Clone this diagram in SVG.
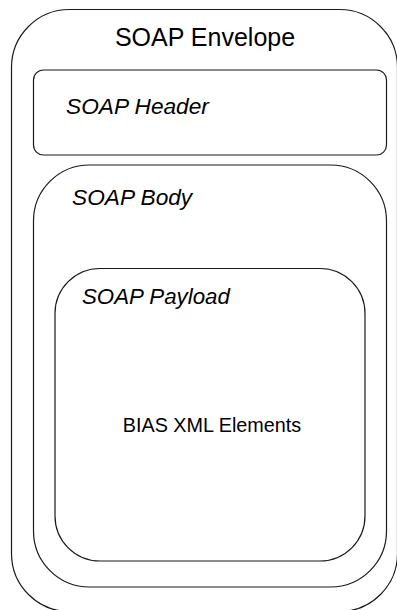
<svg xmlns="http://www.w3.org/2000/svg" width="397" height="610" viewBox="0 0 397 610">
<style>
.box{fill:none;stroke:#1a1a1a;stroke-width:1.2}
.t{font-family:"Liberation Sans",Arial,sans-serif;fill:#000}
.i{font-style:italic}
</style>
<rect width="397" height="610" fill="#fff"/>
<g id="envelope">
<rect class="box" x="11.5" y="9.5" width="386" height="602" rx="58" ry="58"/>
<text class="t" x="205" y="46" font-size="25" text-anchor="middle">SOAP Envelope</text>
</g>
<g id="header">
<rect class="box" x="33.5" y="70" width="353" height="85" rx="10" ry="10"/>
<text class="t i" x="66" y="114" font-size="22.7">SOAP Header</text>
</g>
<g id="body">
<rect class="box" x="33.5" y="165" width="353" height="422" rx="56" ry="56"/>
<text class="t i" x="72" y="205" font-size="22.7">SOAP Body</text>
</g>
<g id="payload">
<rect class="box" x="55" y="268.5" width="310" height="292.5" rx="45" ry="45"/>
<text class="t i" x="82" y="304" font-size="22.3">SOAP Payload</text>
</g>
<g id="elements">
<text class="t" x="212" y="431.5" font-size="19.8" text-anchor="middle">BIAS XML Elements</text>
</g>
<g id="connectors"></g>
</svg>
